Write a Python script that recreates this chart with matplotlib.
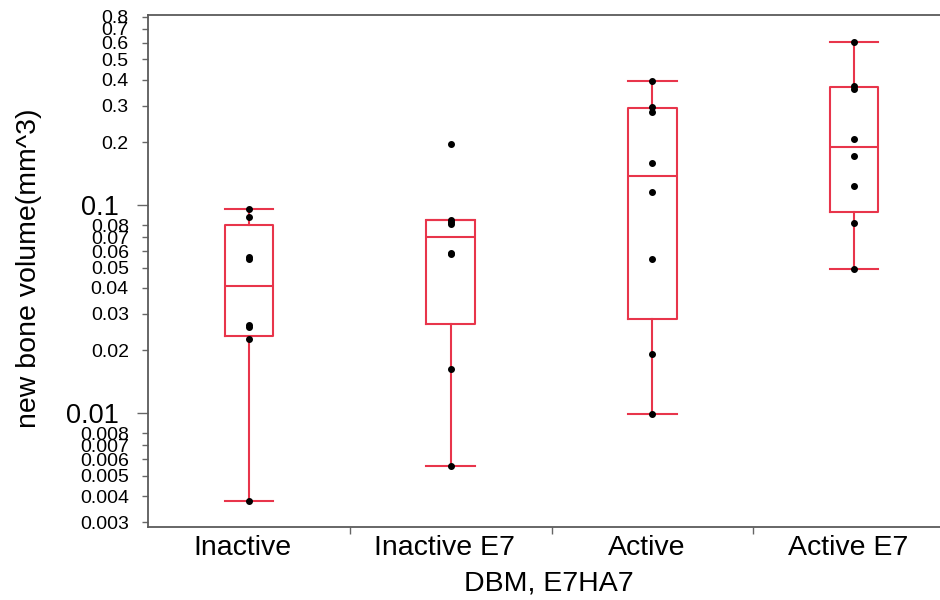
import numpy as np
import matplotlib
matplotlib.use("Agg")
import matplotlib.pyplot as plt
from matplotlib.transforms import ScaledTranslation

plt.rcParams["font.family"] = ["Liberation Sans", "DejaVu Sans"]

# values
groups = ["Inactive", "Inactive E7", "Active", "Active E7"]
inactive = [0.0038, 0.0228, 0.0258, 0.0266, 0.055, 0.056, 0.088, 0.096]
inactive_e7 = [0.0056, 0.0163, 0.058, 0.059, 0.081, 0.083, 0.085, 0.197]
active = [0.0099, 0.0192, 0.0552, 0.115, 0.159, 0.278, 0.297, 0.395]
active_e7 = [0.0494, 0.0822, 0.123, 0.172, 0.208, 0.362, 0.373, 0.604]

major_ticks = [0.01, 0.1]
minor_ticks = [0.003, 0.004, 0.005, 0.006, 0.007, 0.008,
               0.02, 0.03, 0.04, 0.05, 0.06, 0.07, 0.08,
               0.2, 0.3, 0.4, 0.5, 0.6, 0.7, 0.8]

red = "#E8354B"


def box_stats(vals, label):
    # quartiles like JMP: (n+1)p, whiskers to data within 1.5 IQR
    v = np.sort(np.array(vals))
    q1, med, q3 = np.percentile(v, [25, 50, 75], method="weibull")
    iqr = q3 - q1
    lo = v[v >= q1 - 1.5 * iqr].min()
    hi = v[v <= q3 + 1.5 * iqr].max()
    return {"label": label, "q1": q1, "med": med, "q3": q3,
            "whislo": lo, "whishi": hi, "fliers": []}


data = [inactive, inactive_e7, active, active_e7]
stats = [box_stats(d, g) for d, g in zip(data, groups)]
pos = np.arange(len(groups))

fig = plt.figure(figsize=(9.4, 6), dpi=100)
ax = fig.add_axes([148 / 940, 73 / 600, 807 / 940, 512 / 600])

ax.bxp(stats, positions=pos, widths=0.24, showfliers=False,
       boxprops=dict(color=red, linewidth=1.5),
       whiskerprops=dict(color=red, linewidth=1.5),
       capprops=dict(color=red, linewidth=1.5),
       medianprops=dict(color=red, linewidth=1.5),
       capwidths=0.24)

for i, d in enumerate(data):
    ax.plot(np.full(len(d), pos[i]), d, "o", color="black", ms=4, zorder=5)

ax.set_yscale("log")
ax.set_ylim(0.00284, 0.817)
ax.set_xlim(-0.5, 3.5)

ax.yaxis.set_major_locator(plt.FixedLocator(major_ticks))
ax.yaxis.set_major_formatter(plt.FixedFormatter(["0.01", "0.1"]))
ax.yaxis.set_minor_locator(plt.FixedLocator(minor_ticks))
ax.yaxis.set_minor_formatter(plt.FixedFormatter([("%g" % t) for t in minor_ticks]))
ax.tick_params(axis="y", which="major", length=8, width=1, color="#666666",
               labelsize=19.5, pad=13)
ax.tick_params(axis="y", which="minor", length=4.3, width=1, color="#666666",
               labelsize=14, pad=9.5)

ax.set_xticks(pos)
ax.set_xticklabels(groups)
ax.set_xticks(pos[:-1] + 0.5, minor=True)
ax.tick_params(axis="x", which="major", length=0, labelsize=20.5, pad=6)
ax.tick_params(axis="x", which="minor", length=5, width=1, color="#666666")
# category labels sit a little left of the boxes in the original
shift = ScaledTranslation(-6 / 100, 0, fig.dpi_scale_trans)
for lab in ax.get_xticklabels():
    lab.set_transform(lab.get_transform() + shift)

for s in ["left", "bottom", "top"]:
    ax.spines[s].set_color("#5a5a5a")
    ax.spines[s].set_linewidth(1.3)
ax.spines["right"].set_visible(False)

ax.set_xlabel("DBM, E7HA7", fontsize=20.5)
ax.set_ylabel("new bone volume(mm^3)", fontsize=20.5)
ax.xaxis.set_label_coords((549 - 148) / 807, -0.085)
ax.yaxis.set_label_coords((42 - 148) / 807, 0.506)

fig.savefig("out.png", dpi=100)
